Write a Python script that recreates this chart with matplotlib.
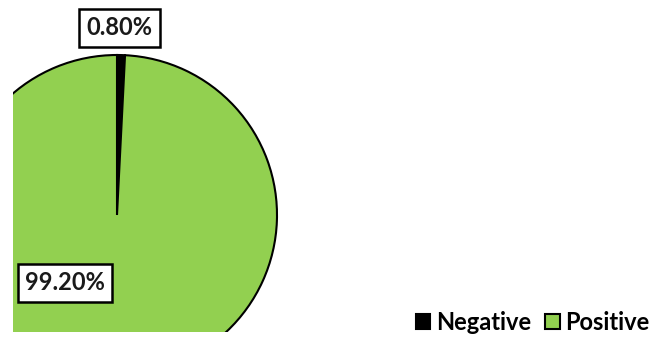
import matplotlib
matplotlib.use('Agg')
import matplotlib.pyplot as plt

# test result shares
categories = ['Negative', 'Positive']
shares = [0.80, 99.20]
colors = ['#000000', '#92D050']

plt.rcParams['font.family'] = ['Lato', 'DejaVu Sans']

fig = plt.figure(figsize=(6.54, 3.38), dpi=100)
W, H = 654, 338
# pie centre and radius in pixels; the axes box cuts the pie at left and bottom
cx, cy, r = 117, 215, 160
left, right, top, bottom = 13, 654, 0, 332
ax = fig.add_axes([left / W, (H - bottom) / H, (right - left) / W, (bottom - top) / H])

wedges, _ = ax.pie(shares, colors=colors, startangle=90, counterclock=False,
                   wedgeprops=dict(edgecolor='black', linewidth=1.5))
for w in wedges:
    w.set_clip_on(True)
ax.set_aspect('auto')
ax.set_xlim((left - cx) / r, (right - cx) / r)
ax.set_ylim((cy - bottom) / r, (cy - top) / r)
ax.axis('off')

# value labels in boxes
label_pos = [(0.016, 1.169), (-0.325, -0.425)]
for v, (x, y) in zip(shares, label_pos):
    ax.text(x, y, f'{v:.2f}%', ha='center', va='center', fontsize=17,
            fontweight='bold', color='#1a1a1a', zorder=5, clip_on=False,
            bbox=dict(boxstyle='square,pad=0.3', fc='white', ec='black', lw=1.8))

fig.legend(wedges, categories, loc='lower right', bbox_to_anchor=(1.008, -0.016),
           ncol=2, frameon=False,
           prop=dict(weight='bold', size=17),
           handlelength=0.6, handleheight=0.6, handletextpad=0.25,
           columnspacing=0.6, borderaxespad=0.0)

fig.savefig('out.png', dpi=100, facecolor='white')
